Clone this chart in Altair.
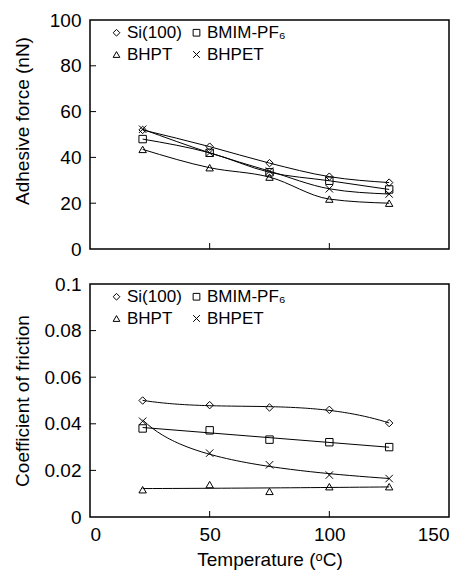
import altair as alt
import pandas as pd

FONT = "Liberation Sans"

temps = [22, 50, 75, 100, 125]
series_names = ["Si(100)", "BMIM-PF₆", "BHPT", "BHPET"]
shapes = ["diamond", "square", "triangle-up", "M-1,-1L1,1M-1,1L1,-1"]

# Adhesive force (nN)
adh_si = [52.0, 44.7, 37.5, 31.6, 29.0]
adh_bmim = [48.0, 42.0, 33.5, 29.8, 26.0]
adh_bhpt = [43.5, 35.5, 31.4, 21.8, 20.0]
adh_bhpet = [52.3, 42.0, 34.0, 26.3, 24.0]

# Coefficient of friction
cof_si = [0.050, 0.048, 0.047, 0.046, 0.0403]
cof_bmim = [0.038, 0.0372, 0.0332, 0.0321, 0.030]
cof_bhpt = [0.0117, 0.0139, 0.011, 0.013, 0.013]
cof_bhpet = [0.0411, 0.0274, 0.0224, 0.018, 0.0165]

adh_ticks = [20, 40, 60, 80]
cof_ticks = [0.02, 0.04, 0.06, 0.08]
x_ticks = [50, 100]

W, H_TOP, H_BOT = 359, 229, 233


def long_df(cols):
    rows = []
    for name, vals in zip(series_names, cols):
        for t, v in zip(temps, vals):
            rows.append({"series": name, "T": t, "val": v})
    return pd.DataFrame(rows)


adh_df = long_df([adh_si, adh_bmim, adh_bhpt, adh_bhpet])
cof_df = long_df([cof_si, cof_bmim, cof_bhpt, cof_bhpet])

x_scale = alt.Scale(domain=[0, 150], nice=False, zero=False)

legend = alt.Legend(
    title=None, orient="none", legendX=18, legendY=4, columns=2,
    direction="horizontal",
    columnPadding=6, rowPadding=4, labelFont=FONT, labelFontSize=17,
    labelColor="black", symbolStrokeColor="black", symbolFillColor="white",
    symbolStrokeWidth=1, symbolSize=45, labelOffset=2, symbolType="circle",
)
shape_scale = alt.Scale(domain=series_names, range=shapes)


def enc_xy(y_title, y_scale, y_values, y_format, x_axis, title_y):
    x = alt.X("T:Q", scale=x_scale, axis=x_axis, title="Temperature (ᵒC)")
    y = alt.Y("val:Q", scale=y_scale, title=y_title,
              axis=alt.Axis(values=y_values, format=y_format, ticks=False,
                            domain=False, grid=False, labelPadding=9,
                            titleX=-58, titleY=title_y))
    return x, y


def panel(df, ticks, y_title, y_scale, y_values, y_format, x_axis, H, fits,
          title_y):
    x, y = enc_xy(y_title, y_scale, y_values, y_format, x_axis, title_y)
    base = alt.Chart(df)
    if fits is None:
        lines = base.mark_line(interpolate="monotone", color="black",
                               strokeWidth=1).encode(x=x, y=y, detail="series:N")
        line_layers = [lines]
    else:
        line_layers = []
        for name, (method, order) in fits.items():
            kw = {"method": method}
            if order:
                kw["order"] = order
            ln = (base.transform_filter(alt.datum.series == name)
                  .transform_regression("T", "val", **kw)
                  .mark_line(color="black", strokeWidth=1)
                  .encode(x=x, y=y))
            line_layers.append(ln)
    pts = base.mark_point(filled=False, color="black", strokeWidth=1,
                          size=55, opacity=1).encode(
        x=x, y=y,
        shape=alt.Shape("series:N", scale=shape_scale, legend=legend),
    )
    ytick_df = pd.DataFrame({"val": ticks})
    yt = alt.Chart(ytick_df).mark_rule(color="black", strokeWidth=1).encode(
        y=y, x=alt.value(0), x2=alt.value(6))
    xtick_df = pd.DataFrame({"T": x_ticks})
    xt = alt.Chart(xtick_df).mark_rule(color="black", strokeWidth=1).encode(
        x=x, y=alt.value(H), y2=alt.value(H - 6))
    return alt.layer(*line_layers, pts, yt, xt).properties(width=W, height=H)


top = panel(adh_df, adh_ticks, "Adhesive force (nN)",
            alt.Scale(domain=[0, 100], nice=False),
            [0, 20, 40, 60, 80, 100], "d", None, H_TOP, None, H_TOP / 2 - 14)

bottom_x_axis = alt.Axis(values=[0, 50, 100, 150], ticks=False, domain=False,
                         grid=False, labelPadding=8, titlePadding=6)
fits = {
    "Si(100)": ("poly", 3),
    "BMIM-PF₆": ("linear", None),
    "BHPT": ("poly", 2),
    "BHPET": ("pow", None),
}
bottom = panel(cof_df, cof_ticks, "Coefficient of friction",
               alt.Scale(domain=[0, 0.1], nice=False),
               [0, 0.02, 0.04, 0.06, 0.08, 0.1], ".2~f", bottom_x_axis,
               H_BOT, fits, H_BOT / 2)

chart = (
    alt.vconcat(top, bottom, spacing=14)
    .resolve_scale(shape="independent")
    .resolve_legend(shape="independent")
    .properties(padding={"left": 12, "top": 10, "right": 5, "bottom": 5},
                background="white")
    .configure_view(stroke="black", strokeWidth=1.5)
    .configure_axis(labelFont=FONT, titleFont=FONT, labelFontSize=19,
                    titleFontSize=19, labelColor="black", titleColor="black",
                    titleFontWeight="normal")
)

chart.save("out.html", embed_options={"renderer": "svg", "actions": False})
